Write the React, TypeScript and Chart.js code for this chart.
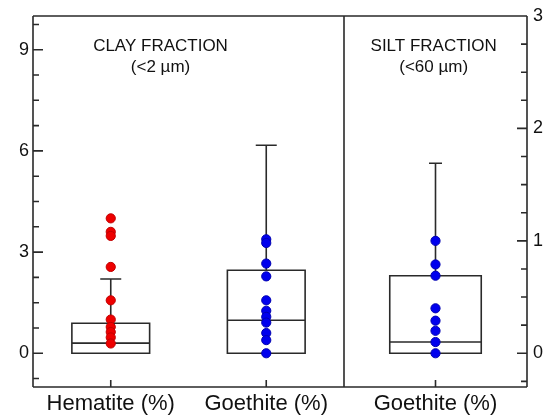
import React, { useEffect, useRef } from 'react';
import { Chart, registerables } from 'chart.js';

Chart.register(...registerables);

// ---- data ----
const clayCategories = ['Hematite (%)', 'Goethite (%)'];
const siltCategories = ['Goethite (%)'];

const hematiteClay = [4.0, 3.6, 3.48, 2.56, 1.57, 1.0, 0.78, 0.63, 0.47, 0.29];
const goethiteClay = [3.38, 3.27, 2.66, 2.28, 1.57, 1.26, 1.08, 0.91, 0.6, 0.39, 0];
const goethiteSilt = [1.0, 0.79, 0.69, 0.4, 0.29, 0.2, 0.1, 0];

// box stats: [lower whisker, q1, median, q3, upper whisker]
const hematiteClayBox = [0, 0, 0.3, 0.89, 2.2];
const goethiteClayBox = [0, 0, 0.98, 2.46, 6.17];
const goethiteSiltBox = [0, 0, 0.1, 0.69, 1.69];

const clayAxis = { min: -1, max: 10, major: 3, minor: 0.75 };
const siltAxis = { min: -0.3, max: 3, major: 1, minor: 0.25 };

const clayTitle = ['CLAY FRACTION', '(<2 µm)'];
const siltTitle = ['SILT FRACTION', '(<60 µm)'];

// ---- styles ----
const FONT = "'Liberation Sans', Arial, Helvetica, sans-serif";
const LINE = '#2a2a2a';
const TEXT = '#111111';
const RED = '#ee0000';
const RED_EDGE = '#c00000';
const BLUE = '#0000ee';
const BLUE_EDGE = '#0000b0';

function isMajor(v: number, step: number) {
  const r = v / step;
  return Math.abs(r - Math.round(r)) < 1e-6;
}

interface PanelOpts {
  boxes: number[][];
  capWidths: number[];
  axis: { min: number; max: number; major: number; minor: number };
  side: 'left' | 'right';
  title: string[];
  titleX: number;
  edges: { left: boolean; right: boolean };
}

function makePanelPlugin(o: PanelOpts) {
  return {
    id: 'panel',
    beforeDatasetsDraw(chart: any) {
      const ctx = chart.ctx;
      const xs = chart.scales.x;
      const ys = chart.scales.y;
      const n = xs.getLabels().length;
      const catW = xs.width / n;
      ctx.save();
      ctx.strokeStyle = LINE;
      ctx.lineWidth = 1.6;
      o.boxes.forEach((b, i) => {
        const [lo, q1, med, q3, hi] = b;
        const xc = xs.getPixelForValue(i);
        const bw = catW * 0.5;
        const yLo = ys.getPixelForValue(lo);
        const yQ1 = ys.getPixelForValue(q1);
        const yMed = ys.getPixelForValue(med);
        const yQ3 = ys.getPixelForValue(q3);
        const yHi = ys.getPixelForValue(hi);
        const cap = o.capWidths[i];
        ctx.beginPath();
        ctx.rect(xc - bw / 2, yQ3, bw, yQ1 - yQ3);
        ctx.moveTo(xc - bw / 2, yMed);
        ctx.lineTo(xc + bw / 2, yMed);
        ctx.moveTo(xc, yQ3);
        ctx.lineTo(xc, yHi);
        ctx.moveTo(xc - cap / 2, yHi);
        ctx.lineTo(xc + cap / 2, yHi);
        if (lo < q1) {
          ctx.moveTo(xc, yQ1);
          ctx.lineTo(xc, yLo);
          ctx.moveTo(xc - cap / 2, yLo);
          ctx.lineTo(xc + cap / 2, yLo);
        }
        ctx.stroke();
      });
      ctx.restore();
    },
    afterDraw(chart: any) {
      const ctx = chart.ctx;
      const a = chart.chartArea;
      const xs = chart.scales.x;
      const ys = chart.scales.y;
      ctx.save();
      ctx.strokeStyle = LINE;
      ctx.lineWidth = 1.6;
      ctx.beginPath();
      ctx.moveTo(a.left, a.top);
      ctx.lineTo(a.right, a.top);
      ctx.moveTo(a.left, a.bottom);
      ctx.lineTo(a.right, a.bottom);
      if (o.edges.left) {
        ctx.moveTo(a.left, a.top);
        ctx.lineTo(a.left, a.bottom);
      }
      if (o.edges.right) {
        ctx.moveTo(a.right, a.top);
        ctx.lineTo(a.right, a.bottom);
      }
      ys.ticks.forEach((t: any) => {
        const y = ys.getPixelForValue(t.value);
        const len = isMajor(t.value, o.axis.major) ? 10 : 6;
        if (o.side === 'left') {
          ctx.moveTo(a.left, y);
          ctx.lineTo(a.left + len, y);
        } else {
          ctx.moveTo(a.right, y);
          ctx.lineTo(a.right - len, y);
        }
      });
      xs.getLabels().forEach((_l: string, i: number) => {
        const x = xs.getPixelForValue(i);
        ctx.moveTo(x, a.bottom);
        ctx.lineTo(x, a.bottom - 7);
      });
      ctx.stroke();
      ctx.fillStyle = TEXT;
      ctx.font = `17px ${FONT}`;
      ctx.textAlign = 'center';
      ctx.textBaseline = 'middle';
      const tx = a.left + o.titleX * (a.right - a.left);
      ctx.fillText(o.title[0], tx, a.top + 30);
      ctx.fillText(o.title[1], tx, a.top + 51);
      ctx.restore();
    },
  };
}

function dots(cat: string, values: number[]) {
  return values.map((v) => ({ x: cat, y: v }));
}

function buildChart(
  canvas: HTMLCanvasElement,
  labels: string[],
  datasets: any[],
  o: PanelOpts,
  padding: any,
  yWidth: number
) {
  return new Chart(canvas, {
    type: 'scatter',
    data: { labels, datasets },
    options: {
      animation: false,
      responsive: false,
      devicePixelRatio: 1,
      layout: { padding, autoPadding: false },
      plugins: { legend: { display: false }, tooltip: { enabled: false } },
      scales: {
        x: {
          type: 'category',
          offset: true,
          grid: { display: false, drawTicks: false },
          border: { display: false },
          ticks: {
            autoSkip: false,
            maxRotation: 0,
            padding: 4,
            color: TEXT,
            font: { family: FONT, size: 22 },
          },
          afterFit: (s: any) => {
            s.height = 31;
            s.paddingLeft = 0;
            s.paddingRight = 0;
          },
        },
        y: {
          type: 'linear',
          position: o.side,
          min: o.axis.min,
          max: o.axis.max,
          grid: { display: false, drawTicks: false },
          border: { display: false },
          ticks: {
            stepSize: o.axis.minor,
            includeBounds: false,
            autoSkip: false,
            padding: o.side === 'left' ? 4 : 6,
            color: TEXT,
            font: { family: FONT, size: 18 },
            callback: (v: any) => (isMajor(Number(v), o.axis.major) ? String(Math.round(Number(v))) : ''),
          },
          afterFit: (s: any) => {
            s.width = yWidth;
            s.paddingTop = 0;
            s.paddingBottom = 0;
          },
        },
      },
    } as any,
    plugins: [makePanelPlugin(o)],
  });
}

export default function App() {
  const leftRef = useRef<HTMLCanvasElement>(null);
  const rightRef = useRef<HTMLCanvasElement>(null);

  useEffect(() => {
    const pointStyle = (fill: string, edge: string) => ({
      backgroundColor: fill,
      borderColor: edge,
      borderWidth: 1,
      pointRadius: 4.6,
    });
    const left = buildChart(
      leftRef.current!,
      clayCategories,
      [
        { data: dots(clayCategories[0], hematiteClay), ...pointStyle(RED, RED_EDGE) },
        { data: dots(clayCategories[1], goethiteClay), ...pointStyle(BLUE, BLUE_EDGE) },
      ],
      {
        boxes: [hematiteClayBox, goethiteClayBox],
        capWidths: [21, 21],
        axis: clayAxis,
        side: 'left',
        title: clayTitle,
        titleX: 0.41,
        edges: { left: true, right: true },
      },
      { top: 16, right: 2, left: 0, bottom: 0 },
      33
    );
    const right = buildChart(
      rightRef.current!,
      siltCategories,
      [{ data: dots(siltCategories[0], goethiteSilt), ...pointStyle(BLUE, BLUE_EDGE) }],
      {
        boxes: [goethiteSiltBox],
        capWidths: [13],
        axis: siltAxis,
        side: 'right',
        title: siltTitle,
        titleX: 0.49,
        edges: { left: false, right: true },
      },
      { top: 16, right: 0, left: 2, bottom: 0 },
      18
    );
    return () => {
      left.destroy();
      right.destroy();
    };
  }, []);

  return (
    <div style={{ position: 'fixed', left: 0, top: 0, width: 545, height: 418, background: '#fff' }}>
      <canvas ref={leftRef} width={346} height={418} style={{ position: 'absolute', left: 0, top: 0 }} />
      <canvas ref={rightRef} width={203} height={418} style={{ position: 'absolute', left: 342, top: 0 }} />
    </div>
  );
}
